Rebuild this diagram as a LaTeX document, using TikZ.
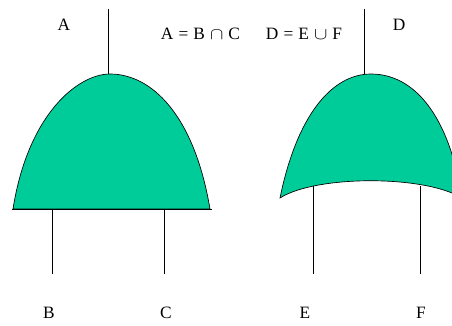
\documentclass[tikz,border=0pt]{standalone}
\usepackage{fontspec}
\setmainfont{Liberation Serif}
\usepackage{xcolor}
\usetikzlibrary{calc}
\definecolor{gatefill}{HTML}{00CC99}
\newcommand{\bigop}[1]{\scalebox{1.25}[1.05]{$#1$}}

\begin{document}
\begin{tikzpicture}[
  x=0.75pt, y=-0.75pt,
  every node/.style={font=\fontsize{13}{15}\selectfont, inner sep=0pt},
  gate/.style={draw=black, line width=0.5pt, fill=gatefill},
  wire/.style={draw=black, line width=0.5pt},
  tlabel/.style={anchor=base},
  flabel/.style={anchor=base, execute at begin node={\spaceskip=3.8pt}}
]

\useasboundingbox[clip] (0,0) rectangle (452,325);

% puerta A
\draw[gate] (13,209) .. controls (28,114) and (78,74) .. (110,74)
  .. controls (151,74) and (194,114) .. (210,209) -- cycle;
\coordinate (abase1) at (12,209);
\coordinate (abase2) at (212,209);
\draw[wire] (abase1) -- (abase2);

% puerta D
\draw[gate] (280,198) .. controls (297,115) and (332,74) .. (371,74)
  .. controls (414,74) and (449,115) .. (462,198)
  .. controls (425,175) and (316,175) .. cycle;

\coordinate (atop) at (108,9);
\coordinate (aout) at (108,74);
\coordinate (bin) at (52,209);
\coordinate (bend) at (52,274);
\coordinate (cin) at (164,209);
\coordinate (cend) at (164,274);
\draw[wire] (atop) -- (aout);
\draw[wire] (bin) -- (bend);
\draw[wire] (cin) -- (cend);

\coordinate (dtop) at (364.5,9);
\coordinate (dout) at (364.5,74);
\coordinate (ein) at (313,186);
\coordinate (eend) at (313,274);
\coordinate (fin) at (420,186);
\coordinate (fend) at (420,274);
\draw[wire] (dtop) -- (dout);
\draw[wire] (ein) -- (eend);
\draw[wire] (fin) -- (fend);

\node[tlabel] (la) at (64,30) {A};
\node[tlabel] (ld) at (399,30) {D};
\node[flabel] (fa) at (200.5,39.5) {A = B \bigop{\cap} C};
\node[flabel] (fd) at (304,39.5) {D = E \bigop{\cup} F};
\node[tlabel] (lb) at (49,318) {B};
\node[tlabel] (lc) at (166,318) {C};
\node[tlabel] (le) at (305,318) {E};
\node[tlabel] (lf) at (421,318) {F};

\end{tikzpicture}
\end{document}
